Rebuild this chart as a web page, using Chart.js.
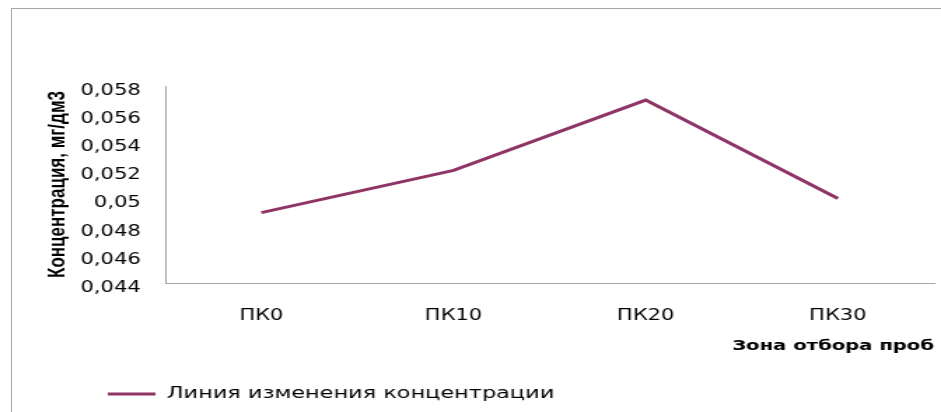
<!DOCTYPE html>
<html>
<head>
<meta charset="utf-8">
<script src="https://cdn.jsdelivr.net/npm/chart.js@4"></script>
<style>
  html, body { margin: 0; padding: 0; background: #fff; overflow: hidden; }
  #frame {
    position: absolute; left: 11px; top: 8px;
    width: 1000px; height: 500px;
    border: 1px solid #a6a6a6;
  }
  /* the original picture is stretched sideways, so the canvas is too */
  #myChart {
    position: absolute; left: 0; top: 0;
    transform: scaleX(1.4003);
    transform-origin: 0 0;
  }
</style>
</head>
<body>
<div id="frame"></div>
<canvas id="myChart" width="672" height="412"></canvas>
<script>
const zones = ['ПК0', 'ПК10', 'ПК20', 'ПК30'];
const concentration = [0.049, 0.052, 0.057, 0.050];
const yTicks = { min: 0.044, max: 0.058, step: 0.002 };
const seriesName = 'Линия изменения концентрации';
const lineColor = '#8e3565';
const axisColor = '#a6a6a6';

// legend sits further right than Chart.js puts it
const legendShift = {
  id: 'legendShift',
  afterLayout(chart) {
    chart.legend.left = 58;
  }
};

const ctx = document.getElementById('myChart').getContext('2d');
const myChart = new Chart(ctx, {
  type: 'line',
  data: {
    labels: zones,
    datasets: [{
      label: seriesName,
      data: concentration,
      borderColor: lineColor,
      backgroundColor: lineColor,
      borderWidth: 3,
      pointRadius: 0,
      tension: 0,
    }]
  },
  options: {
    responsive: false,
    animation: false,
    devicePixelRatio: 1,
    layout: { padding: { top: 86, left: 0, right: 5, bottom: 0 } },
    scales: {
      x: {
        offset: true,
        grid: { display: false },
        border: { display: true, color: axisColor, width: 1 },
        ticks: {
          padding: 16,
          color: '#000',
          font: { family: 'DejaVu Sans', size: 15 },
        },
        title: {
          display: true,
          text: 'Зона отбора проб',
          align: 'end',
          color: '#000',
          font: { family: 'DejaVu Sans', size: 14, weight: 'bold' },
          padding: { top: 0, bottom: 12 },
        },
        afterFit(scale) { scale.height = 84; },
      },
      y: {
        min: yTicks.min,
        max: yTicks.max,
        grid: { display: false },
        border: { display: true, color: axisColor, width: 1 },
        ticks: {
          stepSize: yTicks.step,
          padding: 9.5,
          labelOffset: 5,
          color: '#000',
          font: { family: 'DejaVu Sans', size: 15 },
          callback: (value) => value.toFixed(3).replace(/0+$/, '').replace('.', ','),
        },
        title: {
          display: true,
          text: 'Концентрация, мг/дм3',
          color: '#000',
          font: { family: 'Liberation Sans', size: 17, weight: 'bold' },
          padding: { top: 31.5, bottom: 0 },
        },
        afterFit(scale) { scale.width = 118; },
      }
    },
    plugins: {
      legend: {
        display: true,
        position: 'bottom',
        align: 'start',
        labels: {
          usePointStyle: true,
          pointStyle: 'line',
          pointStyleWidth: 34,
          padding: 19,
          color: '#000',
          font: { family: 'DejaVu Sans', size: 16 },
        }
      },
      tooltip: { enabled: false },
    }
  },
  plugins: [legendShift]
});
</script>
</body>
</html>
